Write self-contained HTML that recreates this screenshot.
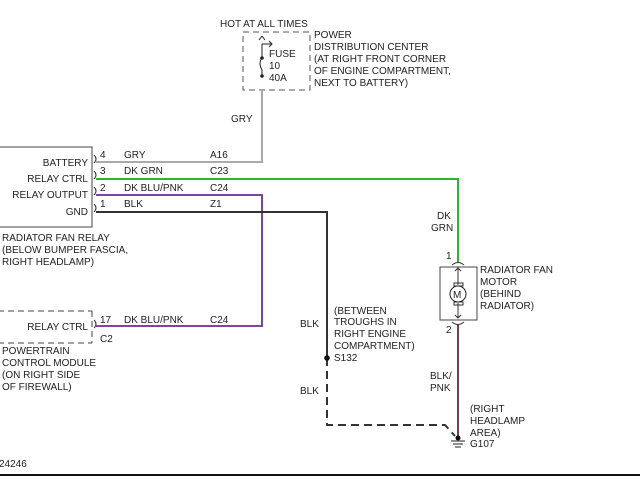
<!DOCTYPE html>
<html><head><style>
body{margin:0;background:#fff}
svg text{font-family:"Liberation Sans",sans-serif;font-size:10px;fill:#222}
</style></head><body>
<svg width="640" height="480" xmlns="http://www.w3.org/2000/svg">
<rect width="640" height="480" fill="#fff"/>
<!-- fuse box -->
<rect x="243" y="32" width="67" height="58" fill="none" stroke="#555" stroke-dasharray="6,4"/>
<text x="220" y="27">HOT AT ALL TIMES</text>
<text x="314" y="38">POWER</text>
<text x="314" y="50">DISTRIBUTION CENTER</text>
<text x="314" y="62">(AT RIGHT FRONT CORNER</text>
<text x="314" y="74">OF ENGINE COMPARTMENT,</text>
<text x="314" y="86">NEXT TO BATTERY)</text>
<text x="269" y="57">FUSE</text>
<text x="269" y="69">10</text>
<text x="269" y="81">40A</text>
<path d="M262 44 V58 M262 36 l-3 4 M262 36 l3 4 M262 44 H272 M269 41 l3 3 -3 3" stroke="#222" fill="none"/>
<path d="M262 58 Q258 63 262 70 V76" stroke="#222" fill="none"/>
<circle cx="262" cy="58" r="1.8" fill="#222"/><circle cx="262" cy="76" r="1.8" fill="#222"/>
<text x="231" y="122">GRY</text>
<!-- relay box -->
<rect x="-2" y="147" width="94" height="80" fill="none" stroke="#444"/>
<g text-anchor="end">
<text x="88" y="166">BATTERY</text>
<text x="88" y="182">RELAY CTRL</text>
<text x="88" y="198">RELAY OUTPUT</text>
<text x="88" y="215">GND</text>
<text x="88" y="330">RELAY CTRL</text>
</g>
<text x="2" y="241">RADIATOR FAN RELAY</text>
<text x="2" y="253">(BELOW BUMPER FASCIA,</text>
<text x="2" y="265">RIGHT HEADLAMP)</text>
<path d="M94 155 q4 4 0 8 M94 171 q4 4 0 8 M94 187 q4 4 0 8 M94 204 q4 4 0 8 M94 320 q4 4 0 8" stroke="#333" fill="none"/>
<text x="100" y="158">4</text><text x="124" y="158">GRY</text><text x="210" y="158">A16</text>
<text x="100" y="174">3</text><text x="124" y="174">DK GRN</text><text x="210" y="174">C23</text>
<text x="100" y="191">2</text><text x="124" y="191">DK BLU/PNK</text><text x="210" y="191">C24</text>
<text x="100" y="207">1</text><text x="124" y="207">BLK</text><text x="210" y="207">Z1</text>
<!-- wires -->
<path d="M96 162 H262 V90" stroke="#aaa" stroke-width="2" fill="none"/>
<path d="M96 179 H458 V262" stroke="#2db52d" stroke-width="2" fill="none"/>
<path d="M96 195 H262 V326 H96" stroke="#c060a0" stroke-width="2" fill="none"/>
<path d="M96 195 H262 V326 H96" stroke="#3a2a9a" stroke-width="1" fill="none"/>
<path d="M96 212 H327 V358" stroke="#333" stroke-width="2" fill="none"/>
<path d="M327 358 V425 H445 L455 436" stroke="#333" stroke-width="2" stroke-dasharray="8,5" fill="none"/>
<circle cx="327" cy="358" r="2.8" fill="#111"/>
<text x="300" y="327">BLK</text><text x="300" y="394">BLK</text>
<text x="334" y="314">(BETWEEN</text>
<text x="334" y="325">TROUGHS IN</text>
<text x="334" y="337">RIGHT ENGINE</text>
<text x="334" y="349">COMPARTMENT)</text>
<text x="334" y="361">S132</text>
<!-- PCM -->
<path d="M-2 311 H92 M-2 343 H92" stroke="#444" stroke-dasharray="6,4" fill="none"/>
<path d="M92 311 V343" stroke="#444" stroke-dasharray="6,4"/>
<text x="100" y="323">17</text><text x="124" y="323">DK BLU/PNK</text><text x="210" y="323">C24</text>
<text x="100" y="342">C2</text>
<text x="2" y="354">POWERTRAIN</text>
<text x="2" y="366">CONTROL MODULE</text>
<text x="2" y="378">(ON RIGHT SIDE</text>
<text x="2" y="390">OF FIREWALL)</text>
<text x="-1" y="467">24246</text>
<!-- motor -->
<text x="437" y="219">DK</text><text x="431" y="231">GRN</text>
<text x="446" y="259">1</text><text x="446" y="333">2</text>
<rect x="440" y="267" width="37" height="53" fill="none" stroke="#444"/>
<path d="M452 265 q6 -5 12 0 M452 322 q6 5 12 0" stroke="#333" fill="none"/>
<path d="M458 268 V285 M458 303 V318 M455 271 l3 -3 3 3 M455 315 l3 3 3 -3" stroke="#333" fill="none"/>
<rect x="454" y="283" width="9" height="3" fill="none" stroke="#333"/>
<rect x="454" y="302" width="9" height="3" fill="none" stroke="#333"/>
<circle cx="458" cy="294" r="8" fill="#fff" stroke="#222"/>
<text x="453" y="298">M</text>
<text x="480" y="273">RADIATOR FAN</text>
<text x="480" y="285">MOTOR</text>
<text x="480" y="297">(BEHIND</text>
<text x="480" y="309">RADIATOR)</text>
<path d="M458 325 V437" stroke="#7a3a4a" stroke-width="2"/>
<text x="430" y="379">BLK/</text><text x="430" y="391">PNK</text>
<text x="470" y="412">(RIGHT</text><text x="470" y="424">HEADLAMP</text><text x="470" y="436">AREA)</text>
<text x="470" y="447">G107</text>
<circle cx="458" cy="438" r="2.5" fill="#111"/>
<path d="M451 441 H465 M453 444 H463 M455 447 H461" stroke="#222"/>
<path d="M0 475 H640" stroke="#111" stroke-width="2"/>
</svg>
</body></html>
